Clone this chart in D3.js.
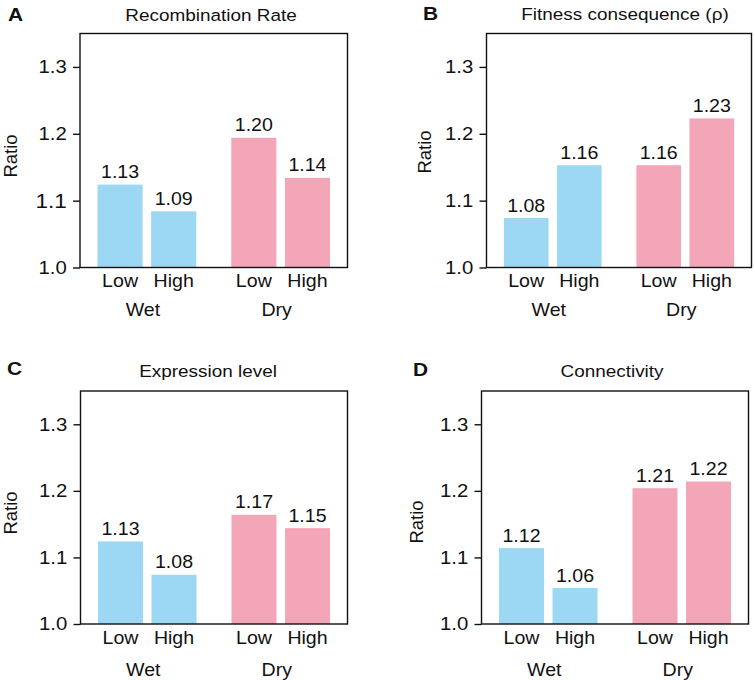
<!DOCTYPE html>
<html>
<head>
<meta charset="utf-8">
<script src="https://cdn.jsdelivr.net/npm/d3@7"></script>
<style>
  html, body { margin: 0; padding: 0; background: #fff; }
  svg { display: block; }
  text { font-family: "Liberation Sans", Arial, Helvetica, sans-serif; fill: #111; }
</style>
</head>
<body>
<svg id="chart" width="755" height="680"></svg>
<script>
// ---------- data ----------
const panelLetters = ["A", "B", "C", "D"];
const panelTitles = ["Recombination Rate", "Fitness consequence (\u03C1)", "Expression level", "Connectivity"];
const environments = ["Wet", "Dry"];
const levels = ["Low", "High"];
const yTickValues = [1.0, 1.1, 1.2, 1.3];
const yTickLabels = ["1.0", "1.1", "1.2", "1.3"];
const yLabel = "Ratio";

// bar heights (Wet-Low, Wet-High, Dry-Low, Dry-High) and printed labels
const recombinationValues = [1.124, 1.084, 1.194, 1.134];
const recombinationLabels = ["1.13", "1.09", "1.20", "1.14"];
const fitnessValues = [1.074, 1.153, 1.153, 1.223];
const fitnessLabels = ["1.08", "1.16", "1.16", "1.23"];
const expressionValues = [1.124, 1.074, 1.164, 1.144];
const expressionLabels = ["1.13", "1.08", "1.17", "1.15"];
const connectivityValues = [1.114, 1.054, 1.204, 1.214];
const connectivityLabels = ["1.12", "1.06", "1.21", "1.22"];

const panelValues = [recombinationValues, fitnessValues, expressionValues, connectivityValues];
const panelLabels = [recombinationLabels, fitnessLabels, expressionLabels, connectivityLabels];

// ---------- layout ----------
const layout = [
  { x0: 80,    x1: 347.5, y0: 33.5, y1: 267.5, letterX: 8,   letterY: 21,  titleX: 211, titleY: 21,  ratioX: 16.5, ratioY: 156, groupDy: 48 },
  { x0: 486.5, x1: 751.5, y0: 33.5, y1: 267.5, letterX: 423, letterY: 20,  titleX: 625, titleY: 20,  ratioX: 431,  ratioY: 152, groupDy: 48 },
  { x0: 80.5,  x1: 347.5, y0: 391,  y1: 624,   letterX: 7,   letterY: 375, titleX: 208, titleY: 377, ratioX: 16.5, ratioY: 513, groupDy: 51.5 },
  { x0: 481.5, x1: 748.5, y0: 391,  y1: 624,   letterX: 413, letterY: 376, titleX: 612, titleY: 377, ratioX: 423,  ratioY: 522, groupDy: 51.5 }
];
const colors = { Wet: "#9cd8f3", Dry: "#f2a6b8" };
const SX = 1.1; // horizontal stretch of the lettering in the original figure

const svg = d3.select("#chart");
const place = (x, y) => `translate(${x},${y}) scale(${SX},1)`;

panelLetters.forEach((letter, i) => {
  const L = layout[i];
  const values = panelValues[i];
  const labels = panelLabels[i];
  const w = L.x1 - L.x0;
  const g = svg.append("g").attr("transform", `translate(${L.x0},0)`);

  const y = d3.scaleLinear().domain([1.0, 1.35]).range([L.y1, L.y0]);
  const xOuter = d3.scaleBand().domain(environments).range([0, w]).paddingInner(0.262).paddingOuter(0.131);
  const xInner = d3.scaleBand().domain(levels).range([0, xOuter.bandwidth()]).paddingInner(0.159).paddingOuter(0);
  const xc = d => xOuter(d.env) + xInner(d.lv) + xInner.bandwidth() / 2;

  const rows = [];
  environments.forEach((env, ei) => levels.forEach((lv, li) => {
    const k = ei * 2 + li;
    rows.push({ env, lv, value: values[k], label: labels[k] });
  }));

  // bars
  g.selectAll("rect.bar").data(rows).join("rect")
    .attr("class", "bar")
    .attr("x", d => xOuter(d.env) + xInner(d.lv))
    .attr("width", xInner.bandwidth())
    .attr("y", d => y(d.value))
    .attr("height", d => y(1.0) - y(d.value))
    .attr("fill", d => colors[d.env]);

  // value labels
  g.selectAll("text.val").data(rows).join("text")
    .attr("class", "val")
    .attr("transform", d => place(xc(d), y(d.value) - 6.5))
    .attr("text-anchor", "middle")
    .style("font-size", "17.8px")
    .text(d => d.label);

  // frame
  g.append("rect")
    .attr("x", 0).attr("y", L.y0)
    .attr("width", w).attr("height", L.y1 - L.y0)
    .attr("fill", "none").attr("stroke", "#111").attr("stroke-width", 1.4);

  // y axis
  const yAxis = d3.axisLeft(y).tickValues(yTickValues).tickSize(7).tickPadding(5)
    .tickFormat((d, j) => yTickLabels[j]);
  const ax = g.append("g").call(yAxis);
  ax.select(".domain").remove();
  ax.selectAll(".tick line").attr("stroke", "#111").attr("stroke-width", 1.4);
  ax.selectAll(".tick text")
    .attr("transform", `scale(${SX},1)`)
    .style("font-family", "'Liberation Sans', Arial, sans-serif")
    .style("font-size", (d, j) => (i === 0 && j === 1) ? "20.5px" : "18.5px")
    .attr("fill", "#111");

  // x category labels
  g.selectAll("text.lv").data(rows).join("text")
    .attr("class", "lv")
    .attr("transform", d => place(xc(d), L.y1 + 19.5))
    .attr("text-anchor", "middle")
    .style("font-size", "17.8px")
    .text(d => d.lv);

  g.selectAll("text.env").data(environments).join("text")
    .attr("class", "env")
    .attr("transform", d => place(xOuter(d) + xOuter.bandwidth() / 2 - 4, L.y1 + L.groupDy))
    .attr("text-anchor", "middle")
    .style("font-size", "17.8px")
    .text(d => d);

  // titles, letters, y label
  svg.append("text")
    .attr("transform", place(L.titleX, L.titleY))
    .attr("text-anchor", "middle")
    .style("font-size", "17.2px")
    .text(panelTitles[i]);

  svg.append("text")
    .attr("transform", place(L.letterX, L.letterY))
    .style("font-size", "19px").style("font-weight", "bold")
    .text(letter);

  svg.append("text")
    .attr("transform", `translate(${L.ratioX},${L.ratioY}) rotate(-90)`)
    .attr("text-anchor", "middle")
    .style("font-size", "18.5px")
    .text(yLabel);
});
</script>
</body>
</html>
